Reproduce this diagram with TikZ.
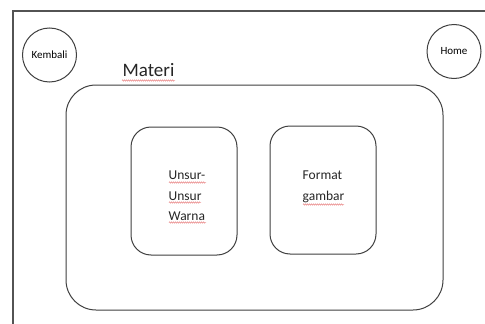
\documentclass[tikz,border=0pt]{standalone}
\usepackage{fontspec}
\setmainfont{Carlito}
\usetikzlibrary{decorations.pathmorphing}
\definecolor{ink}{HTML}{404040}
\definecolor{spell}{HTML}{E05050}
\tikzset{
  frameline/.style={draw=ink!90, line width=1.1pt},
  navbtn/.style={circle, draw=ink, line width=1pt, minimum size=54pt, inner sep=0pt, font=\fontsize{11}{13}\selectfont},
  panel/.style={rounded corners=30pt, draw=ink, line width=1pt, minimum width=377pt, minimum height=225pt, inner sep=0pt},
  topicbox/.style={rounded corners=20pt, draw=ink, line width=1pt, minimum width=106pt, minimum height=128pt, inner sep=0pt},
  topictext/.style={align=left, anchor=west, inner sep=0pt, font=\fontsize{13.5}{20.5}\selectfont, text=black!85},
  squiggle/.style={draw=spell!80, line width=0.4pt, decorate, decoration={snake, amplitude=0.7pt, segment length=2pt}}
}
\begin{document}
\begin{tikzpicture}[x=1pt, y=-1pt]
  \useasboundingbox[fill=white] (0,0) rectangle (485,324);
  % page frame (top and left edges)
  \draw[frameline] (485,11) -- (13,11) -- (13,324);

  % navigation buttons
  \node[navbtn] (kembali) at (49.5,55) {Kembali};
  \node[navbtn] (home) at (454,51.5) {Home};

  % title
  \node[font=\fontsize{19}{22}\selectfont, text=black!85, inner sep=0pt] (judul) at (148.5,70) {Materi};

  % content panel and topics
  \node[panel] (materi) at (254.5,197.5) {};
  \node[topicbox] (unsur) at (184,191) {};
  \node[topicbox] (format) at (323,190) {};
  \node[topictext] (unsurtxt) at (168.5,196) {Unsur-\\Unsur\\Warna};
  \node[topictext] (formattxt) at (302.5,187) {Format\\gambar};

  % spelling marks under words
  \draw[squiggle] (122,80.5) -- (175,80.5);
  \draw[squiggle] (169,182.5) -- (206,182.5);
  \draw[squiggle] (169,202.5) -- (201,202.5);
  \draw[squiggle] (169,222.5) -- (206,222.5);
  \draw[squiggle] (303,204.5) -- (344,204.5);
\end{tikzpicture}
\end{document}
